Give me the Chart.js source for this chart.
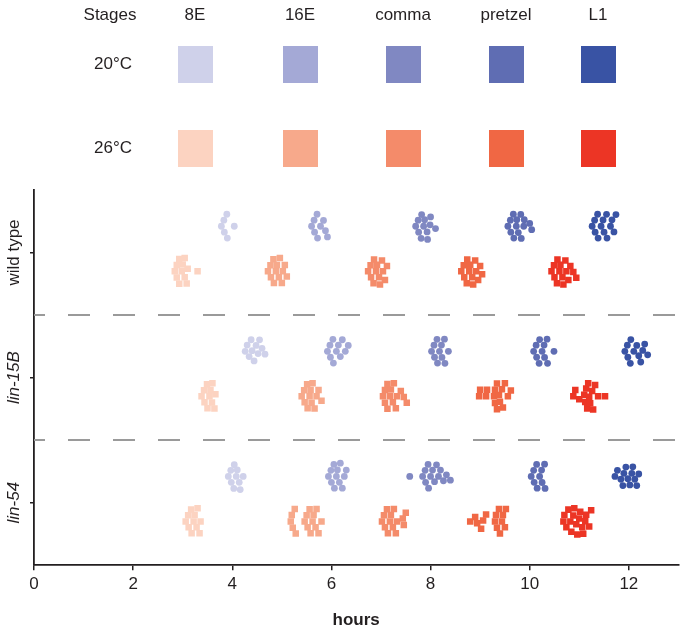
<!DOCTYPE html>
<html>
<head>
<meta charset="utf-8">
<script src="https://cdn.jsdelivr.net/npm/chart.js@4/dist/chart.umd.min.js"></script>
<style>
  html, body { margin: 0; padding: 0; background: #fff; }
  #wrap { width: 683px; height: 631px; }
</style>
</head>
<body>
<div id="wrap"><canvas id="myChart"></canvas></div>
<script>
// Categorías
const stages = ['8E', '16E', 'comma', 'pretzel', 'L1'];
const genotypes = ['wild type', 'lin-15B', 'lin-54'];
const temps = ['20°C', '26°C'];
const xTicks = [0, 2, 4, 6, 8, 10, 12];

// Colores por estadio
const blues = ['#cfd1ea', '#a4a9d6', '#8088c2', '#5f6db3', '#3953a4'];
const reds = ['#fcd3c1', '#f7a98b', '#f48b6a', '#f06744', '#ec3525'];

// Tiempos (horas) por embrión: [8E, 16E, comma, pretzel, L1]
const wildType20 = [
  [3.78, 3.83, 3.84, 3.89, 3.90, 4.04],
  [5.60, 5.65, 5.66, 5.71, 5.72, 5.78, 5.84, 5.88, 5.92],
  [7.70, 7.75, 7.76, 7.81, 7.82, 7.86, 7.88, 7.93, 7.94, 7.99, 8.00, 8.10],
  [9.56, 9.61, 9.62, 9.67, 9.68, 9.73, 9.74, 9.77, 9.82, 9.83, 9.88, 9.89, 10.00, 10.04],
  [11.26, 11.31, 11.32, 11.37, 11.38, 11.44, 11.48, 11.50, 11.55, 11.56, 11.63, 11.66, 11.70, 11.74]
];
const wildType26 = [
  [2.84, 2.88, 2.88, 2.93, 2.93, 2.98, 3.00, 3.04, 3.04, 3.08, 3.10, 3.30],
  [4.72, 4.77, 4.78, 4.83, 4.84, 4.88, 4.90, 4.94, 4.96, 5.00, 5.02, 5.06, 5.10],
  [6.74, 6.79, 6.80, 6.85, 6.86, 6.90, 6.92, 6.96, 6.98, 7.02, 7.04, 7.08, 7.12],
  [8.62, 8.67, 8.68, 8.73, 8.74, 8.78, 8.80, 8.84, 8.86, 8.90, 8.92, 8.96, 9.00, 9.04],
  [10.44, 10.49, 10.50, 10.55, 10.56, 10.60, 10.62, 10.66, 10.68, 10.72, 10.74, 10.78, 10.82, 10.88, 10.94]
];
const lin15B20 = [
  [4.26, 4.30, 4.34, 4.38, 4.40, 4.44, 4.48, 4.52, 4.55, 4.60, 4.66],
  [5.92, 5.97, 5.98, 6.03, 6.04, 6.10, 6.14, 6.18, 6.22, 6.28, 6.34],
  [8.02, 8.07, 8.08, 8.13, 8.14, 8.18, 8.22, 8.23, 8.28, 8.29, 8.36],
  [10.08, 10.13, 10.14, 10.19, 10.20, 10.25, 10.29, 10.30, 10.35, 10.36, 10.49],
  [11.92, 11.97, 11.98, 12.03, 12.04, 12.10, 12.16, 12.20, 12.24, 12.28, 12.32, 12.38]
];
const lin15B26 = [
  [3.38, 3.43, 3.44, 3.49, 3.50, 3.54, 3.56, 3.59, 3.60, 3.64, 3.66],
  [5.40, 5.45, 5.46, 5.51, 5.52, 5.56, 5.58, 5.60, 5.62, 5.66, 5.70, 5.74, 5.80],
  [7.04, 7.08, 7.08, 7.13, 7.13, 7.18, 7.20, 7.24, 7.26, 7.30, 7.32, 7.40, 7.46, 7.52],
  [8.98, 9.00, 9.12, 9.14, 9.28, 9.30, 9.30, 9.34, 9.34, 9.38, 9.40, 9.44, 9.46, 9.50, 9.56, 9.62],
  [10.88, 10.92, 11.00, 11.10, 11.12, 11.14, 11.16, 11.18, 11.20, 11.22, 11.26, 11.28, 11.32, 11.38, 11.52]
];
const lin5420 = [
  [3.92, 3.97, 3.98, 4.03, 4.04, 4.08, 4.10, 4.14, 4.16, 4.22],
  [5.94, 5.99, 6.00, 6.05, 6.06, 6.10, 6.12, 6.16, 6.18, 6.22, 6.26, 6.30],
  [7.58, 7.84, 7.89, 7.90, 7.95, 7.96, 8.00, 8.04, 8.08, 8.12, 8.16, 8.20, 8.26, 8.32, 8.40],
  [10.03, 10.08, 10.09, 10.14, 10.15, 10.20, 10.24, 10.25, 10.30, 10.31],
  [11.72, 11.77, 11.84, 11.88, 11.90, 11.94, 11.98, 12.02, 12.06, 12.08, 12.12, 12.16, 12.20]
];
const lin5426 = [
  [3.06, 3.11, 3.12, 3.17, 3.18, 3.22, 3.24, 3.28, 3.30, 3.34, 3.36],
  [5.18, 5.20, 5.22, 5.26, 5.28, 5.46, 5.50, 5.52, 5.56, 5.58, 5.62, 5.64, 5.68, 5.70, 5.74, 5.80],
  [7.02, 7.06, 7.08, 7.12, 7.14, 7.18, 7.20, 7.24, 7.26, 7.30, 7.32, 7.44, 7.46, 7.50],
  [8.80, 8.90, 8.94, 9.02, 9.06, 9.12, 9.30, 9.32, 9.34, 9.38, 9.40, 9.44, 9.46, 9.50, 9.52],
  [10.68, 10.70, 10.74, 10.78, 10.82, 10.84, 10.88, 10.90, 10.94, 10.96, 11.00, 11.02, 11.06, 11.08, 11.12, 11.14, 11.20, 11.24]
];

const rows = [[wildType20, wildType26], [lin15B20, lin15B26], [lin5420, lin5426]];
const rowOffset = [0.29, 0.65]; // posición de cada temperatura dentro del grupo
const FONT = '"Liberation Sans", Arial, sans-serif';
const INK = '#231f20';

// Un dataset por temperatura y estadio
const datasets = [];
temps.forEach((t, ti) => {
  stages.forEach((s, si) => {
    const data = [];
    rows.forEach((pair, gi) => {
      pair[ti][si].forEach(v => data.push({ x: v, y: gi + rowOffset[ti], base: gi + rowOffset[ti], g: gi }));
    });
    datasets.push({
      label: s + ' ' + t,
      data: data,
      backgroundColor: ti ? reds[si] : blues[si],
      borderWidth: 0,
      pointStyle: ti ? 'rect' : 'circle',
      pointRadius: ti ? 4.6 : 3.4,
      pointHoverRadius: ti ? 4.6 : 3.4
    });
  });
});

// Leyenda de la parte superior, líneas discontinuas y etiquetas del eje y
const extras = {
  id: 'extras',
  beforeDatasetsDraw(chart) {
    const { ctx, chartArea, scales } = chart;
    ctx.save();
    ctx.strokeStyle = '#9a9a9a';
    ctx.lineWidth = 2;
    ctx.setLineDash([22, 23]);
    ctx.lineDashOffset = 11;
    [1, 2].forEach(v => {
      const y = Math.round(scales.y.getPixelForValue(v));
      ctx.beginPath();
      ctx.moveTo(chartArea.left, y);
      ctx.lineTo(chartArea.right, y);
      ctx.stroke();
    });
    ctx.restore();
  },
  afterDraw(chart) {
    const { ctx, scales } = chart;
    ctx.save();
    ctx.fillStyle = INK;
    ctx.textAlign = 'center';
    ctx.textBaseline = 'middle';
    ctx.font = '17px ' + FONT;
    const colX = [195, 300, 403, 506, 598];
    ctx.fillText('Stages', 110, 15);
    stages.forEach((s, i) => ctx.fillText(s, colX[i], 15));
    const rowY = [64, 148];
    temps.forEach((t, ti) => {
      ctx.fillStyle = INK;
      ctx.fillText(t, 113, rowY[ti]);
      stages.forEach((s, si) => {
        ctx.fillStyle = ti ? reds[si] : blues[si];
        ctx.fillRect(colX[si] - 17, rowY[ti] - 18, 35, 37);
      });
    });
    // etiquetas verticales de genotipo
    genotypes.forEach((g, gi) => {
      const y = scales.y.getPixelForValue(gi + 0.5);
      ctx.save();
      ctx.translate(14, y);
      ctx.rotate(-Math.PI / 2);
      ctx.fillStyle = INK;
      ctx.font = (gi ? 'italic ' : '') + '17px ' + FONT;
      ctx.fillText(g, 0, 0);
      ctx.restore();
    });
    ctx.restore();
  }
};

const canvas = document.getElementById('myChart');
const chart = new Chart(canvas.getContext('2d'), {
  type: 'scatter',
  data: { datasets: datasets },
  options: {
    responsive: true,
    maintainAspectRatio: false,
    animation: false,
    events: [],
    layout: { padding: { top: 190, left: 30, right: 0, bottom: 0 } },
    plugins: { legend: { display: false }, tooltip: { enabled: false } },
    scales: {
      x: {
        type: 'linear',
        min: 0,
        max: 13,
        afterBuildTicks: axis => { axis.ticks = xTicks.map(v => ({ value: v })); },
        grid: { drawOnChartArea: false, drawTicks: true, tickLength: 5, color: INK, lineWidth: 1.5 },
        border: { display: true, color: INK, width: 1.8 },
        ticks: { color: INK, font: { family: FONT, size: 17 }, padding: 4, maxRotation: 0 },
        title: { display: true, text: 'hours', color: INK, font: { family: FONT, size: 17, weight: 'bold' }, padding: { top: 12, bottom: 0 } }
      },
      y: {
        type: 'linear',
        min: 0,
        max: 3,
        reverse: true,
        afterBuildTicks: axis => { axis.ticks = genotypes.map((g, i) => ({ value: i + 0.5 })); },
        grid: { drawOnChartArea: false, drawTicks: true, tickLength: 4, color: INK, lineWidth: 1.5 },
        border: { display: true, color: INK, width: 1.8 },
        ticks: { display: false }
      }
    }
  },
  plugins: [extras]
});

// Disposición tipo "beeswarm": cada punto va lo más cerca posible de su fila sin solaparse,
// con una altura máxima del grupo; si no cabe, se elige el hueco menos ocupado
function applySwarm() {
  const xs = chart.scales.x, ys = chart.scales.y;
  const d = 6.6, cap = 13.2;
  chart.data.datasets.forEach(ds => {
    [0, 1, 2].forEach(gi => {
      const pts = ds.data.filter(p => p.g === gi).sort((a, b) => a.x - b.x);
      const placed = [];
      pts.forEach(p => {
        const px = xs.getPixelForValue(p.x);
        const cands = [0, -d, d, -2 * d, 2 * d];
        placed.forEach(q => {
          const dx = px - q.x;
          if (Math.abs(dx) < d) {
            const dy = Math.sqrt(d * d - dx * dx);
            cands.push(q.y + dy, q.y - dy);
          }
        });
        const ok = cands.filter(c => Math.abs(c) <= cap + 0.01);
        ok.sort((a, b) => Math.abs(a) - Math.abs(b) || a - b);
        const gap = c => placed.reduce((m, q) => Math.min(m, Math.hypot(px - q.x, c - q.y)), Infinity);
        let off = ok.find(c => gap(c) >= d - 0.01);
        if (off === undefined) {
          off = ok.reduce((best, c) => (gap(c) > gap(best) + 0.01 ? c : best), ok[0]);
        }
        placed.push({ x: px, y: off });
        p.y = ys.getValueForPixel(ys.getPixelForValue(p.base) + off);
      });
    });
  });
  chart.update('none');
}
applySwarm();
</script>
</body>
</html>
